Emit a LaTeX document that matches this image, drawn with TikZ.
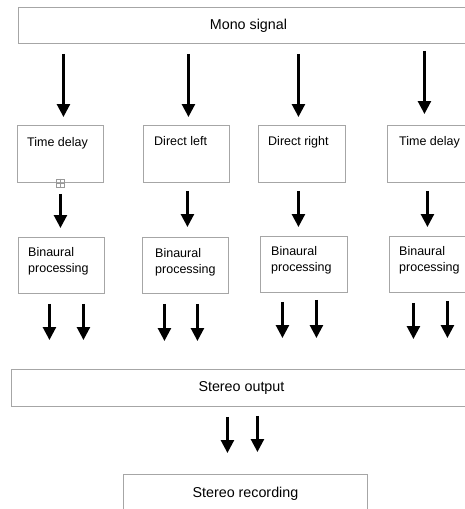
\documentclass[tikz,border=0pt]{standalone}
\usepackage{fontspec}
\setmainfont{Liberation Sans}
\usetikzlibrary{arrows.meta,calc}
\tikzset{
  box/.style={draw=gray!70, line width=0.9pt, inner sep=0pt, anchor=north west,
    font=\fontsize{14.3}{17}\selectfont},
  txt/.style={anchor=north west, inner sep=0pt, align=left, font=\fontsize{12.5}{16.5}\selectfont},
  arr/.style={line width=2.6pt, -{Triangle[width=13pt,length=13pt]}},
}
\begin{document}
\begin{tikzpicture}[x=1pt,y=-1pt]
  \useasboundingbox (0,0) rectangle (464,509);
  % boxes
  \node[box, minimum width=460, minimum height=36] (mono) at (18,7) {Mono signal};
  \node[box, minimum width=86, minimum height=57] (tdA) at (17,125) {};
  \node[box, minimum width=86, minimum height=57] (dl) at (143,125) {};
  \node[box, minimum width=87, minimum height=57] (dr) at (258,125) {};
  \node[box, minimum width=86, minimum height=57] (tdB) at (387,125) {};
  \node[box, minimum width=86, minimum height=56] (bpA) at (18,237) {};
  \node[box, minimum width=86, minimum height=56] (bpB) at (142,237) {};
  \node[box, minimum width=87, minimum height=56] (bpC) at (260,236) {};
  \node[box, minimum width=86, minimum height=56] (bpD) at (389,236) {};
  \node[box, minimum width=460, minimum height=37] (out) at (11,369) {Stereo output};
  \node[box, minimum width=244, minimum height=38] (rec) at (123,474) {Stereo recording};
  % box texts
  \node[txt] (tdAtxt) at ([shift={(10,12)}]tdA.north west) {Time delay};
  \node[txt] (dltxt) at ([shift={(11,11)}]dl.north west) {Direct left};
  \node[txt] (drtxt) at ([shift={(10,11)}]dr.north west) {Direct right};
  \node[txt] (tdBtxt) at ([shift={(12,11)}]tdB.north west) {Time delay};
  \node[txt] (bpAtxt) at ([shift={(10,10)}]bpA.north west) {Binaural\\processing};
  \node[txt] (bpBtxt) at ([shift={(13,11)}]bpB.north west) {Binaural\\processing};
  \node[txt] (bpCtxt) at ([shift={(11,10)}]bpC.north west) {Binaural\\processing};
  \node[txt] (bpDtxt) at ([shift={(10,10)}]bpD.north west) {Binaural\\processing};
  % little anchor mark
  \node[draw=gray!80, line width=0.6pt, inner sep=0pt, minimum size=8] (mark) at (tdA.south) {};
  \draw[gray!80, line width=0.6pt] (mark.north) -- (mark.south) (mark.west) -- (mark.east);
  % mono signal to the four branches
  \draw[arr, shorten <=10pt, shorten >=8pt] ($(tdA.north |- mono.south)+(3,0)$) -- ($(tdA.north)+(3,0)$);
  \draw[arr, shorten <=10pt, shorten >=8pt] ($(dl.north |- mono.south)+(2,0)$) -- ($(dl.north)+(2,0)$);
  \draw[arr, shorten <=10pt, shorten >=8pt] ($(dr.north |- mono.south)+(-3.5,0)$) -- ($(dr.north)+(-3.5,0)$);
  \draw[arr, shorten <=7pt, shorten >=11pt] ($(tdB.north |- mono.south)+(-6,0)$) -- ($(tdB.north)+(-6,0)$);
  % branches to binaural processing
  \draw[arr, shorten <=11pt, shorten >=9pt] (tdA.south) -- (tdA.south |- bpA.north);
  \draw[arr, shorten <=8pt, shorten >=10pt] ($(dl.south)+(1,0)$) -- ($(dl.south |- bpB.north)+(1,0)$);
  \draw[arr, shorten <=8pt, shorten >=9pt] ($(dr.south)+(-3.5,0)$) -- ($(dr.south |- bpC.north)+(-3.5,0)$);
  \draw[arr, shorten <=8pt, shorten >=9pt] ($(tdB.south)+(-3,0)$) -- ($(tdB.south |- bpD.north)+(-3,0)$);
  % binaural processing to stereo output
  \draw[arr, shorten <=10pt, shorten >=29pt] ($(bpA.south)+(-12,0)$) -- ($(bpA.south |- out.north)+(-12,0)$);
  \draw[arr, shorten <=10pt, shorten >=29pt] ($(bpA.south)+(22,0)$) -- ($(bpA.south |- out.north)+(22,0)$);
  \draw[arr, shorten <=10pt, shorten >=28pt] ($(bpB.south)+(-21,0)$) -- ($(bpB.south |- out.north)+(-21,0)$);
  \draw[arr, shorten <=10pt, shorten >=28pt] ($(bpB.south)+(12,0)$) -- ($(bpB.south |- out.north)+(12,0)$);
  \draw[arr, shorten <=9pt, shorten >=31pt] ($(bpC.south)+(-21.5,0)$) -- ($(bpC.south |- out.north)+(-21.5,0)$);
  \draw[arr, shorten <=7pt, shorten >=31pt] ($(bpC.south)+(12.5,0)$) -- ($(bpC.south |- out.north)+(12.5,0)$);
  \draw[arr, shorten <=10pt, shorten >=30pt] ($(bpD.south)+(-19,0)$) -- ($(bpD.south |- out.north)+(-19,0)$);
  \draw[arr, shorten <=8pt, shorten >=31pt] ($(bpD.south)+(15,0)$) -- ($(bpD.south |- out.north)+(15,0)$);
  % stereo output to recording
  \draw[arr, shorten <=10pt, shorten >=21pt] ($(out.south)+(-14,0)$) -- ($(out.south |- rec.north)+(-14,0)$);
  \draw[arr, shorten <=9pt, shorten >=22pt] ($(out.south)+(16,0)$) -- ($(out.south |- rec.north)+(16,0)$);
\end{tikzpicture}
\end{document}
